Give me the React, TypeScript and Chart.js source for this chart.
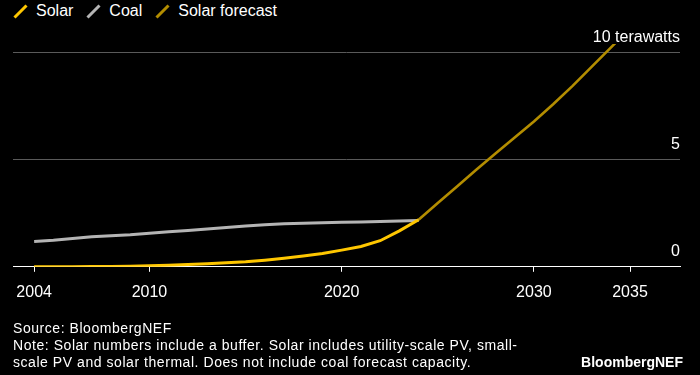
import React, { useEffect, useRef } from "react";
import { Chart, registerables } from "chart.js";

Chart.register(...registerables);

// ---- Data ----
const solarYears = [2004, 2005, 2006, 2007, 2008, 2009, 2010, 2011, 2012, 2013, 2014, 2015, 2016, 2017, 2018, 2019, 2020, 2021, 2022, 2023, 2024];
const solarValues = [0.004, 0.006, 0.008, 0.011, 0.018, 0.026, 0.045, 0.075, 0.105, 0.145, 0.19, 0.24, 0.31, 0.4, 0.5, 0.62, 0.78, 0.95, 1.22, 1.68, 2.2];

const coalYears = [2004, 2005, 2006, 2007, 2008, 2009, 2010, 2011, 2012, 2013, 2014, 2015, 2016, 2017, 2018, 2019, 2020, 2021, 2022, 2023, 2024];
const coalValues = [1.18, 1.24, 1.32, 1.4, 1.45, 1.5, 1.57, 1.64, 1.7, 1.77, 1.84, 1.91, 1.97, 2.01, 2.04, 2.06, 2.08, 2.1, 2.12, 2.14, 2.16];

const forecastYears = [2024, 2025, 2026, 2027, 2028, 2029, 2030, 2031, 2032, 2033, 2034, 2035];
const forecastValues = [2.2, 2.98, 3.76, 4.54, 5.3, 6.05, 6.8, 7.6, 8.45, 9.35, 10.25, 11.15];

const xTickYears = [2004, 2010, 2020, 2030, 2035];
const yTickValues = [0, 5, 10];

const seriesLabels = ["Solar", "Coal", "Solar forecast"];
const sourceLine = "Source: BloombergNEF";
const noteLines = [
  "Note: Solar numbers include a buffer. Solar includes utility-scale PV, small-",
  "scale PV and solar thermal. Does not include coal forecast capacity.",
];
const brand = "BloombergNEF";

// ---- Styles ----
const SOLAR = "#ffc700";
const COAL = "#b4b4b4";
const FORECAST = "#b38d00";
const GRID = "#5a5a5a";
const FONT = "'Liberation Sans', Arial, Helvetica, sans-serif";
const seriesColors = [SOLAR, COAL, FORECAST];

const toPoints = (xs: number[], ys: number[]) => xs.map((x, i) => ({ x, y: ys[i] }));

export default function App() {
  const canvasRef = useRef<HTMLCanvasElement | null>(null);

  useEffect(() => {
    const canvas = canvasRef.current;
    if (!canvas) return;
    const chart = new Chart(canvas, {
      type: "line",
      data: {
        datasets: [
          {
            label: seriesLabels[0],
            data: toPoints(solarYears, solarValues),
            borderColor: SOLAR,
            backgroundColor: SOLAR,
            borderWidth: 3,
            pointRadius: 0,
            tension: 0,
          },
          {
            label: seriesLabels[1],
            data: toPoints(coalYears, coalValues),
            borderColor: COAL,
            backgroundColor: COAL,
            borderWidth: 3,
            pointRadius: 0,
            tension: 0,
          },
          {
            label: seriesLabels[2],
            data: toPoints(forecastYears, forecastValues),
            borderColor: FORECAST,
            backgroundColor: FORECAST,
            borderWidth: 2.6,
            pointRadius: 0,
            tension: 0,
          },
        ],
      },
      options: {
        animation: false,
        responsive: false,
        maintainAspectRatio: false,
        layout: { padding: { left: 13, right: 20, top: 44, bottom: 62 } },
        plugins: { legend: { display: false }, tooltip: { enabled: false } },
        scales: {
          x: {
            type: "linear",
            min: 2002.9,
            max: 2037.6,
            afterBuildTicks: (axis: any) => {
              axis.ticks = xTickYears.map((v) => ({ value: v }));
            },
            grid: {
              drawOnChartArea: false,
              drawTicks: true,
              tickLength: 5,
              color: "#ffffff",
              lineWidth: 1,
            },
            border: { display: true, color: "#ffffff", width: 1 },
            ticks: {
              color: "#ffffff",
              font: { family: FONT, size: 16 },
              padding: 11,
              maxRotation: 0,
              autoSkip: false,
              callback: (v: any) => String(v),
            },
          },
          y: {
            type: "linear",
            position: "right",
            min: 0,
            max: 10.42,
            afterBuildTicks: (axis: any) => {
              axis.ticks = yTickValues.map((v) => ({ value: v }));
            },
            grid: {
              drawTicks: false,
              lineWidth: 1,
              color: (ctx: any) => (ctx.tick && ctx.tick.value === 0 ? "rgba(0,0,0,0)" : GRID),
            },
            border: { display: false },
            ticks: {
              mirror: true,
              padding: 0,
              labelOffset: -15,
              color: "#ffffff",
              font: { family: FONT, size: 16 },
              callback: (v: any) => (Number(v) === 10 ? "10 terawatts" : String(v)),
            },
          },
        },
      },
    } as any);
    return () => chart.destroy();
  }, []);

  const legendItem = (label: string, color: string) => (
    <div key={label} style={{ display: "flex", alignItems: "center", marginRight: 14 }}>
      <div style={{ position: "relative", width: 13, height: 22, marginRight: 9 }}>
        <div
          style={{
            position: "absolute",
            left: 5,
            top: 2.5,
            width: 3,
            height: 17,
            background: color,
            transform: "rotate(45deg)",
          }}
        />
      </div>
      <span>{label}</span>
    </div>
  );

  return (
    <div
      style={{
        position: "absolute",
        left: 0,
        top: 0,
        width: 700,
        height: 375,
        background: "#000000",
        color: "#ffffff",
        fontFamily: FONT,
        overflow: "hidden",
      }}
    >
      <div
        style={{
          position: "absolute",
          left: 14,
          top: 0,
          height: 22,
          display: "flex",
          fontSize: 16,
          lineHeight: "22px",
        }}
      >
        {seriesLabels.map((l, i) => legendItem(l, seriesColors[i]))}
      </div>
      <canvas
        ref={canvasRef}
        width={700}
        height={375}
        style={{ position: "absolute", left: 0, top: 0, width: 700, height: 375 }}
      />
      <div
        style={{
          position: "absolute",
          left: 13,
          top: 320,
          fontSize: 14,
          lineHeight: "17px",
          letterSpacing: "0.55px",
          whiteSpace: "nowrap",
        }}
      >
        <div>{sourceLine}</div>
        {noteLines.map((l) => (
          <div key={l}>{l}</div>
        ))}
      </div>
      <div
        style={{
          position: "absolute",
          right: 17,
          top: 353.5,
          fontSize: 14,
          lineHeight: "17px",
          fontWeight: 700,
          whiteSpace: "nowrap",
        }}
      >
        {brand}
      </div>
    </div>
  );
}
